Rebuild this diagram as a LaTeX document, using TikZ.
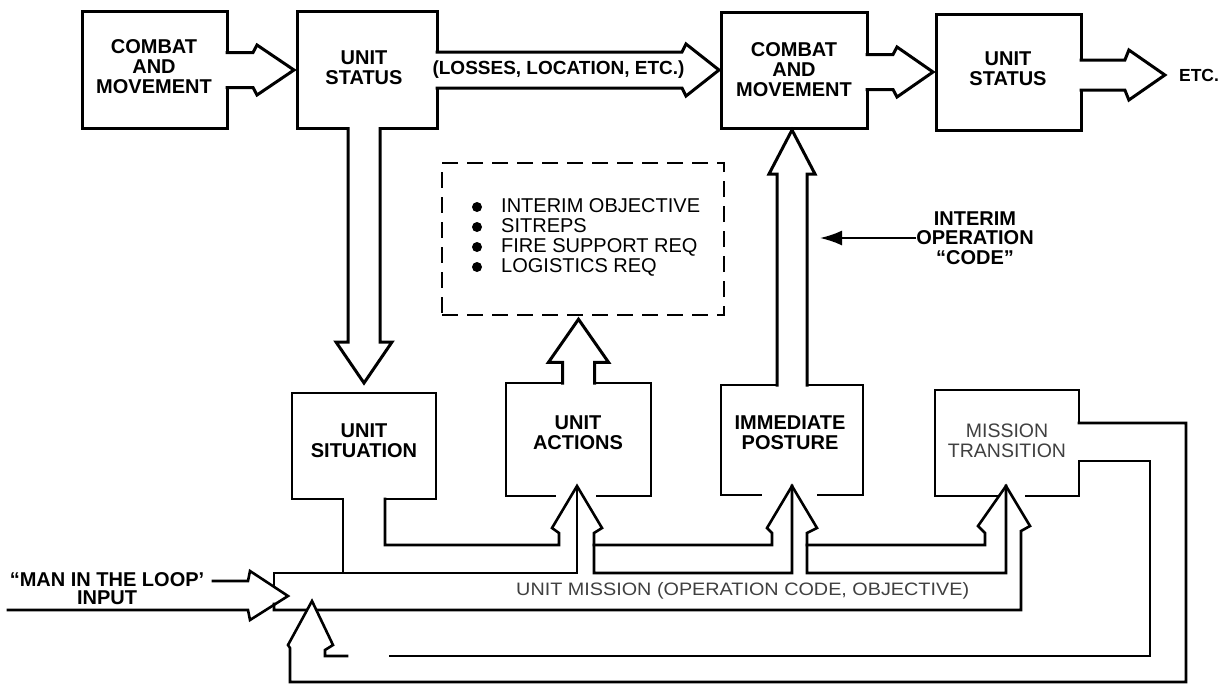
\documentclass[tikz,border=0pt]{standalone}
\usepackage{fontspec}
\setmainfont{Liberation Sans}
\usetikzlibrary{calc,arrows.meta}

% horizontal block arrow: #1 tail point, #2 tip point, #3 shaft half, #4 head half, #5 head length
\newcommand{\blkR}[5]{%
  \fill[white] let \p1=#1, \p2=#2 in
    (\x1-2.5pt,\y2+#3pt) -- (\x2-#5pt,\y2+#3pt) -- (\x2-#5pt+4pt,\y2+#4pt) -- (\x2,\y2)
    -- (\x2-#5pt+4pt,\y2-#4pt) -- (\x2-#5pt,\y2-#3pt) -- (\x1-2.5pt,\y2-#3pt) -- cycle;
  \draw[ln] let \p1=#1, \p2=#2 in
    (\x1,\y2+#3pt) -- (\x2-#5pt,\y2+#3pt) -- (\x2-#5pt+4pt,\y2+#4pt) -- (\x2,\y2)
    -- (\x2-#5pt+4pt,\y2-#4pt) -- (\x2-#5pt,\y2-#3pt) -- (\x1,\y2-#3pt);
}
% downward block arrow
\newcommand{\blkD}[5]{%
  \fill[white] let \p1=#1, \p2=#2 in
    (\x1-#3pt,\y1+2.5pt) -- (\x1-#3pt,\y2+#5pt) -- (\x1-#4pt,\y2+#5pt) -- (\x1,\y2)
    -- (\x1+#4pt,\y2+#5pt) -- (\x1+#3pt,\y2+#5pt) -- (\x1+#3pt,\y1+2.5pt) -- cycle;
  \draw[ln] let \p1=#1, \p2=#2 in
    (\x1-#3pt,\y1) -- (\x1-#3pt,\y2+#5pt) -- (\x1-#4pt,\y2+#5pt) -- (\x1,\y2)
    -- (\x1+#4pt,\y2+#5pt) -- (\x1+#3pt,\y2+#5pt) -- (\x1+#3pt,\y1);
}
% upward block arrow
\newcommand{\blkU}[5]{%
  \fill[white] let \p1=#1, \p2=#2 in
    (\x1-#3pt,\y1-2.5pt) -- (\x1-#3pt,\y2-#5pt) -- (\x1-#4pt,\y2-#5pt) -- (\x1,\y2)
    -- (\x1+#4pt,\y2-#5pt) -- (\x1+#3pt,\y2-#5pt) -- (\x1+#3pt,\y1-2.5pt) -- cycle;
  \draw[ln] let \p1=#1, \p2=#2 in
    (\x1-#3pt,\y1) -- (\x1-#3pt,\y2-#5pt) -- (\x1-#4pt,\y2-#5pt) -- (\x1,\y2)
    -- (\x1+#4pt,\y2-#5pt) -- (\x1+#3pt,\y2-#5pt) -- (\x1+#3pt,\y1);
}

\begin{document}
\begin{tikzpicture}[x=1pt,y=-1pt,
  ln/.style={line width=3pt, line cap=rect, line join=miter},
  lnb/.style={line width=2.6pt, line cap=rect, line join=miter},
  box/.style={draw, line width=3pt, inner sep=0pt, outer sep=0pt},
  bbox/.style={draw, line width=2.7pt, inner sep=0pt, outer sep=0pt},
  lbl/.style={font=\fontsize{20}{20}\selectfont\bfseries, align=center, inner sep=0pt},
  rlbl/.style={font=\fontsize{20}{20}\selectfont, align=left, inner sep=0pt},
  faint/.style={font=\fontsize{19.5}{20}\selectfont, text=black!75, align=center, inner sep=0pt}]

\fill[white] (0,0) rectangle (1228,686);
\useasboundingbox (0,0) rectangle (1228,686);

% ---------- boxes ----------
\node[box, minimum width=145pt, minimum height=117pt] (b1) at (154.5,70) {};
\node[box, minimum width=140pt, minimum height=117pt] (b2) at (367,70) {};
\node[box, minimum width=146pt, minimum height=116pt] (b3) at (794,70) {};
\node[box, minimum width=145pt, minimum height=116pt] (b4) at (1008.5,72) {};
\node[bbox, minimum width=144pt, minimum height=106pt] (us) at (364,446) {};
\node[bbox, minimum width=145pt, minimum height=113pt] (ua) at (578.5,439.5) {};
\node[bbox, minimum width=142pt, minimum height=110pt] (ip) at (792,440) {};
\node[bbox, minimum width=144pt, minimum height=106pt] (mt) at (1007,443) {};
\node[draw, line width=2.5pt, dash pattern=on 16pt off 9pt, inner sep=0pt,
      minimum width=282pt, minimum height=152pt] (dash) at (583,239) {};

\node[lbl, font=\fontsize{17.5}{20}\selectfont\bfseries] (etc) at (1199,75) {ETC.};
\node[lbl, font=\fontsize{20}{19.5}\selectfont\bfseries] (code) at (975,238) {INTERIM\\OPERATION\\“CODE”};

% ---------- openings in box edges ----------
\fill[white] (343,496) rectangle (385,502);
\fill[white] (1076,423) rectangle (1082,461);
\fill[white] (556,493) rectangle (596,500);
\fill[white] (762,492) rectangle (817,499);
\fill[white] (1000,493) rectangle (1025,500);

% ---------- top row block arrows ----------
\blkR{(b1.east)}{($(b2.west)+(-3,0)$)}{17.5}{25}{41}
\blkR{(b2.east)}{($(b3.west)+(-2,0)$)}{18}{26}{37}
\blkR{(b3.east)}{($(b4.west)+(-3,0)$)}{17.5}{25}{40}
\blkR{(b4.east)}{($(etc.west)+(-14,0)$)}{15}{25}{40}

% ---------- vertical block arrows ----------
\blkD{($(b2.south)+(-3,0)$)}{($(us.north)+(0,-10)$)}{16}{28}{41}
\blkU{(ua.north)}{($(dash.south)+(0,3)$)}{16}{30}{43}
\blkU{(ip.north)}{($(b3.south)+(0,2)$)}{15}{23}{44}

% ---------- texts ----------
\node[lbl] (b1t) at (154,67) {COMBAT\\AND\\MOVEMENT};
\node[lbl] (b2t) at (364,68) {UNIT\\STATUS};
\node[lbl] (b3t) at (794,70) {COMBAT\\AND\\MOVEMENT};
\node[lbl] (b4t) at (1008,69) {UNIT\\STATUS};
\node[lbl] (ust) at (364,441) {UNIT\\SITUATION};
\node[lbl] (uat) at (578,433) {UNIT\\ACTIONS};
\node[lbl] (ipt) at (790,433) {IMMEDIATE\\POSTURE};
\node[faint] (mtt) at (1007,441) {MISSION\\TRANSITION};
\node[lbl, font=\fontsize{19}{20}\selectfont\bfseries] (loss) at (558.5,70) {(LOSSES, LOCATION, ETC.)};
\node[lbl, font=\fontsize{20}{18}\selectfont\bfseries] (mil) at (107,589) {“MAN IN THE LOOP’\\INPUT};
\node[faint, anchor=west, font=\fontsize{18}{20}\selectfont] (bar) at (516,591)
  {\scalebox{1.1}[1]{UNIT MISSION (OPERATION CODE, OBJECTIVE)}};
\node[rlbl, anchor=west] (list) at (501,237)
  {INTERIM OBJECTIVE\\SITREPS\\FIRE SUPPORT REQ\\LOGISTICS REQ};
\foreach \yy in {207,227,247,267} \fill (477,\yy) circle (5);

% ---------- bottom channels ----------
\coordinate (tipA) at (577,486);
\coordinate (tipB) at (792,486);
\coordinate (tipC) at (1006,486);
\coordinate (tipF) at (312,601);
\coordinate (tipI) at (288,596);
\coordinate (inS) at (8,610);
\coordinate (codetip) at (820,238);

\draw[lnb] (343,499) -- (343,573);
\draw[lnb] (274,587) -- (274,573) -- (577,573) -- (tipA);
\draw[lnb] (385,499) -- (385,545) -- (559,545) -- (559,533) -- (552,528) -- (tipA)
  -- (602,528) -- (594,533) -- (594,573) -- (792,573) -- (tipB);
\draw[lnb] (594,545) -- (772,545) -- (772,533) -- (767,528) -- (tipB)
  -- (817,528) -- (807,533) -- (807,573) -- (1006,573) -- (tipC);
\draw[lnb] (807,545) -- (985,545) -- (985,533) -- (978,526) -- (tipC)
  -- (1030,526) -- (1021,531) -- (1021,610) -- (274,610) -- (274,604);

% feedback loop from mission transition
\fill[white] (288,645) -- (tipF) -- (333,645) -- cycle;
\draw[lnb] (1079,423) -- (1186,423) -- (1186,682) -- (290,682) -- (290,648) -- (288,645)
  -- (tipF) -- (333,645) -- (325,650) -- (325,656) -- (347,656);
\draw[lnb] (1079,461) -- (1150,461) -- (1150,656) -- (390,656);

% man in the loop input
\draw[lnb] (213,581) -- (248,581) -- (250,571) -- (tipI) -- (250,620) -- (248,610) -- (inS);

% interim operation code arrow
\draw[line width=2pt, -{Latex[length=22pt,width=15pt]}] (code.west) -- (codetip);

\end{tikzpicture}
\end{document}
